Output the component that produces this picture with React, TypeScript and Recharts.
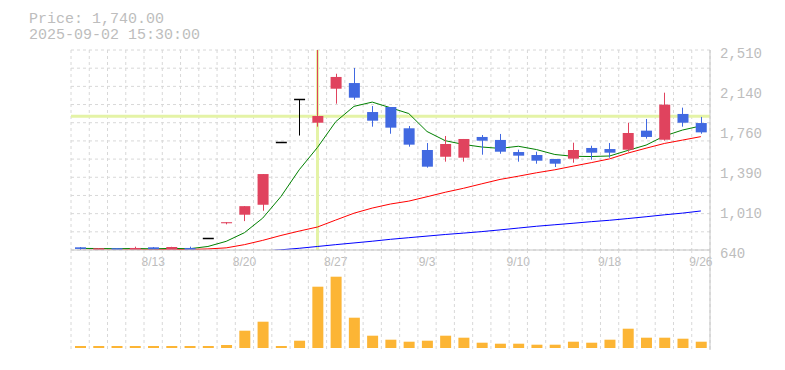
import React from 'react';
import { ComposedChart, Bar, Line, XAxis, YAxis, CartesianGrid, ReferenceLine } from 'recharts';

const dates = ['8/6','8/7','8/8','8/12','8/13','8/14','8/15','8/18','8/19','8/20','8/21','8/22','8/25','8/26','8/27','8/28','8/29','9/1','9/2','9/3','9/4','9/5','9/8','9/9','9/10','9/11','9/12','9/16','9/17','9/18','9/19','9/22','9/24','9/25','9/26'];
const opens = [665,641,657,641,665,643,659,750,890,970,1063,1650,2050,1830,2148,2201,1930,1977,1778,1575,1512,1503,1697,1669,1556,1528,1491,1494,1594,1584,1578,1756,1671,1912,1827];
const highs = [668,657,658,671,668,670,671,750,900,1050,1350,1650,2050,2510,2288,2342,1986,1977,1799,1640,1706,1678,1715,1725,1578,1559,1491,1643,1615,1640,1830,1865,2111,1971,1884];
const lows = [641,640,640,640,645,641,640,750,880,910,1007,1650,1710,1793,2008,2045,1793,1727,1606,1410,1466,1466,1531,1540,1466,1447,1416,1456,1484,1503,1559,1681,1662,1793,1727];
const closes = [650,657,642,659,647,668,642,750,900,1050,1350,1650,2050,1893,2258,2064,1849,1784,1625,1419,1631,1678,1662,1559,1522,1475,1447,1575,1550,1550,1734,1697,1999,1830,1740];
const ma5 = [655,654,652,654,651,655,652,673,721,802,938,1140,1390,1599,1840,1983,2023,1970,1916,1748,1662,1627,1603,1590,1610,1579,1533,1516,1514,1519,1571,1621,1706,1762,1800];
const ma25 = [636,638,640,641,643,644,645,650,660,690,730,776,817,855,920,984,1032,1070,1097,1138,1180,1217,1259,1300,1330,1362,1390,1424,1457,1492,1546,1592,1636,1668,1700];
const ma75 = [null,null,null,null,null,null,null,null,null,null,630,642,656,673,690,706,722,740,755,770,785,798,812,828,845,862,876,890,905,918,934,951,969,985,1005];
const volumes = [20,20,20,20,20,20,20,20,30,173,263,20,73,613,713,303,123,83,63,73,123,103,53,43,43,33,33,63,53,83,193,103,103,93,63];

const priceTicks = [640, 1014, 1388, 1762, 2136, 2510];
const priceTickLabels = ['640', '1,010', '1,390', '1,760', '2,140', '2,510'];
const dateTicks = ['8/13', '8/20', '8/27', '9/3', '9/10', '9/18', '9/26'];
const headerPrice = 'Price: 1,740.00';
const headerTime = '2025-09-02 15:30:00';
const crossDate = '8/26';
const crossPrice = 1890;

const data = dates.map((date, i) => ({
  date,
  open: opens[i],
  high: highs[i],
  low: lows[i],
  close: closes[i],
  ma5: ma5[i],
  ma25: ma25[i],
  ma75: ma75[i],
  volume: volumes[i],
}));

const UP = '#e0435e';
const DOWN = '#4169e1';
const FLAT = '#000000';
const AXIS = '#c4c4c4';
const GRID = '#d8d8d8';
const TEXT = '#bdbdbd';
const CROSS = '#e4f3a6';
const VOL = '#fcb535';

function Candle(props: any) {
  const { x, y, width, height, payload } = props;
  if (x == null || y == null || !payload) return null;
  const { open, close, high, low } = payload;
  const color = close > open ? UP : close < open ? DOWN : FLAT;
  const cx = Math.floor(x + width / 2) + 0.5;
  const ratio = high === low ? 0 : height / (high - low);
  const py = (p: number) => y + (high - p) * ratio;
  const top = py(Math.max(open, close));
  const bot = py(Math.min(open, close));
  const bodyH = bot - top;
  const ly = Math.round(top) + 0.5;
  return (
    <g>
      {high !== low && (
        <line x1={cx} x2={cx} y1={y} y2={y + height} stroke={color} strokeWidth={1} />
      )}
      {bodyH >= 1 ? (
        <rect x={x} y={top} width={width} height={bodyH} fill={color} />
      ) : (
        <line x1={x} x2={x + width} y1={ly} y2={ly} stroke={color} strokeWidth={1.5} />
      )}
    </g>
  );
}

const PriceTick = (props: any) => {
  const { x, y, payload } = props;
  const idx = priceTicks.indexOf(payload.value);
  return (
    <text x={x} y={y} dy={7.5} textAnchor="start" fill={TEXT} fontSize={14} fontFamily="'Liberation Mono', monospace">
      {idx >= 0 ? priceTickLabels[idx] : ''}
    </text>
  );
};

const DateTick = (props: any) => {
  const { x, y, payload } = props;
  return (
    <text x={x} y={y} dy={16} textAnchor="middle" fill={TEXT} fontSize={12} fontFamily="'Liberation Sans', Arial, sans-serif">
      {payload.value}
    </text>
  );
};

const vGen = ({ offset }: any) =>
  Array.from({ length: data.length + 1 }, (_, k) => offset.left + (k * offset.width) / data.length);
const hGen = ({ offset }: any) =>
  Array.from({ length: 12 }, (_, k) => offset.top + (k * offset.height) / 11);

export default function App() {
  return (
    <div style={{ position: 'absolute', left: 0, top: 0, width: 785, height: 370, background: '#fff' }}>
      <div style={{ position: 'absolute', left: 0, top: 0 }}>
        <ComposedChart width={785} height={370} data={data} margin={{ top: 50, right: 0, bottom: 100, left: 71 }}>
          <CartesianGrid
            stroke={GRID}
            strokeDasharray="3 3"
            verticalCoordinatesGenerator={vGen}
            horizontalCoordinatesGenerator={hGen}
          />
          <XAxis
            dataKey="date"
            ticks={dateTicks}
            interval={0}
            tickSize={0}
            tickMargin={0}
            tickLine={false}
            tick={<DateTick />}
            axisLine={{ stroke: AXIS }}
            height={20}
          />
          <YAxis
            orientation="right"
            width={75}
            domain={[640, 2510]}
            allowDataOverflow
            ticks={priceTicks}
            interval={0}
            tickSize={0}
            tickMargin={10}
            tickLine={false}
            tick={<PriceTick />}
            axisLine={{ stroke: AXIS }}
          />
          <ReferenceLine x={crossDate} stroke={CROSS} strokeWidth={3} zIndex={50} />
          <ReferenceLine y={crossPrice} stroke={CROSS} strokeWidth={3} zIndex={50} />
          <Line dataKey="ma75" stroke="#0000ff" strokeWidth={1} dot={false} isAnimationActive={false} zIndex={100} />
          <Line dataKey="ma25" stroke="#ff0000" strokeWidth={1} dot={false} isAnimationActive={false} zIndex={100} />
          <Line dataKey="ma5" stroke="#008000" strokeWidth={1} dot={false} isAnimationActive={false} zIndex={100} />
          <Bar
            dataKey={(d: any) => [d.low, d.high]}
            shape={Candle}
            barSize={11}
            isAnimationActive={false}
            zIndex={300}
          />
        </ComposedChart>
      </div>
      <div style={{ position: 'absolute', left: 0, top: 0 }}>
        <ComposedChart width={785} height={370} data={data} margin={{ top: 250, right: 0, bottom: 20, left: 71 }}>
          <CartesianGrid stroke={GRID} strokeDasharray="3 3" horizontal={false} verticalCoordinatesGenerator={vGen} />
          <XAxis dataKey="date" tick={false} tickLine={false} axisLine={{ stroke: AXIS }} height={0} />
          <YAxis
            orientation="right"
            width={75}
            domain={[-20, 980]}
            allowDataOverflow
            tick={false}
            tickLine={false}
            axisLine={{ stroke: AXIS }}
          />
          <Bar dataKey="volume" fill={VOL} barSize={11} isAnimationActive={false} />
        </ComposedChart>
      </div>
      <svg width={785} height={50} style={{ position: 'absolute', left: 0, top: 0 }}>
        <text x={29} y={22.5} fill={TEXT} fontSize={15} fontFamily="'Liberation Mono', monospace">
          {headerPrice}
        </text>
        <text x={29} y={38.5} fill={TEXT} fontSize={15} fontFamily="'Liberation Mono', monospace">
          {headerTime}
        </text>
      </svg>
    </div>
  );
}
